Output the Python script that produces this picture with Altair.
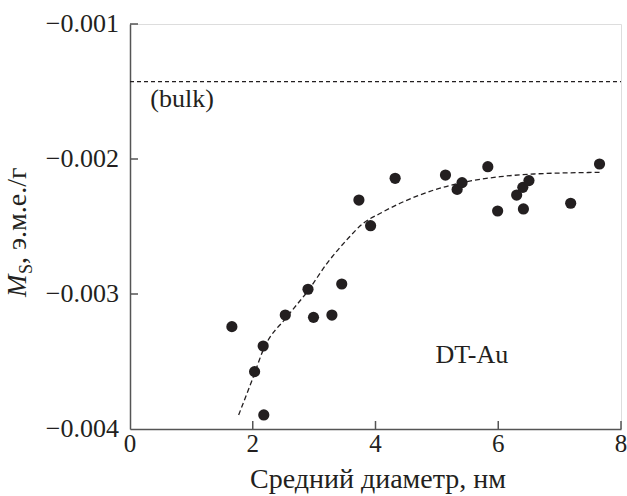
import altair as alt
import pandas as pd

# measured points: mean diameter (nm) and Ms (emu/g)
diam = [1.66, 2.03, 2.17, 2.18, 2.53, 2.90, 2.99, 3.29, 3.45, 3.73, 3.92, 4.32,
        5.14, 5.33, 5.41, 5.83, 5.99, 6.30, 6.40, 6.41, 6.50, 7.18, 7.65]
ms = [-0.003242, -0.003575, -0.003385, -0.003896, -0.003156, -0.002965, -0.003173,
      -0.003156, -0.002926, -0.002304, -0.002494, -0.002143, -0.002119, -0.002225,
      -0.002175, -0.002057, -0.002385, -0.002267, -0.002210, -0.002370, -0.002160,
      -0.002328, -0.002037]

# dashed fit curve
fit_x = [1.77, 2.01, 2.17, 2.56, 2.91, 3.21, 3.53, 3.80, 4.08, 4.40, 4.95, 5.49, 6.03, 6.58, 7.65]
fit_y = [-0.003896, -0.003613, -0.003415, -0.003168, -0.002970, -0.002773, -0.002600,
         -0.002476, -0.002402, -0.002328, -0.002230, -0.002168, -0.002131, -0.002111, -0.002099]

# bulk level
bulk_x = [0, 8]
bulk_y = [-0.001427, -0.001427]

x_ticks = [0, 2, 4, 6, 8]
y_ticks = [-0.004, -0.003, -0.002, -0.001]

labels_text = ["(bulk)", "DT-Au"]
labels_x = [0.33, 5.57]
labels_y = [-0.001615, -0.003511]

x_title = "Средний диаметр, нм"

FONT = "Liberation Serif"
INK = "#231f20"
AX = "#555555"

xscale = alt.Scale(domain=[0, 8], nice=False, zero=False)
yscale = alt.Scale(domain=[-0.004, -0.001], nice=False, zero=False)
xaxis = alt.Axis(values=x_ticks, title=None, ticks=False, labels=False,
                 domainColor=AX, domainWidth=1.5, grid=False)
yaxis = alt.Axis(values=y_ticks, title=None, ticks=False, labels=False,
                 domainColor=AX, domainWidth=1.5, grid=False)


def X(field):
    return alt.X(field, type="quantitative", scale=xscale, axis=xaxis)


def Y(field):
    return alt.Y(field, type="quantitative", scale=yscale, axis=yaxis)


pts = pd.DataFrame({"x": diam, "y": ms})
fit = pd.DataFrame({"x": fit_x, "y": fit_y})
bulk = pd.DataFrame({"x": bulk_x, "y": bulk_y})
xt_all = pd.DataFrame({"x": x_ticks})
yt_all = pd.DataFrame({"y": y_ticks})
xt = pd.DataFrame({"x": x_ticks[1:]})
yt = pd.DataFrame({"y": y_ticks[1:]})
lab = pd.DataFrame({"x": labels_x, "y": labels_y, "t": labels_text})
one = pd.DataFrame({"k": [0]})

bulk_layer = alt.Chart(bulk).mark_line(strokeDash=[4, 3], strokeWidth=1.1, color=INK).encode(
    x=X("x"), y=Y("y"))
fit_layer = alt.Chart(fit).mark_line(strokeDash=[5, 3], strokeWidth=1.3, color=INK,
                                     interpolate="monotone").encode(x=X("x"), y=Y("y"))
pt_layer = alt.Chart(pts).mark_circle(size=125, color=INK, opacity=1).encode(x=X("x"), y=Y("y"))
xtick_layer = alt.Chart(xt).mark_rule(color=AX, strokeWidth=1.5).encode(
    x=X("x"), y=alt.value(405), y2=alt.value(397))
ytick_layer = alt.Chart(yt).mark_rule(color=AX, strokeWidth=1.5).encode(
    y=Y("y"), x=alt.value(0), x2=alt.value(8))

# tick labels as text marks (serif)
xlab_layer = alt.Chart(xt_all).mark_text(font=FONT, fontSize=25, color=INK, align="center",
                                         baseline="top").encode(
    x=X("x"), y=alt.value(408), text=alt.Text("x:Q", format="d"))
ylab_layer = alt.Chart(yt_all).transform_calculate(
    lab="'\u2212' + format(abs(datum.y), '.3f')"
).mark_text(font=FONT, fontSize=26, color=INK, align="right", baseline="middle").encode(
    y=Y("y"), x=alt.value(-11), text="lab:N")

bulk_lab = alt.Chart(lab).transform_filter(alt.datum.t == "(bulk)").mark_text(
    font=FONT, fontSize=26, color=INK, align="left", baseline="alphabetic").encode(
    x=X("x"), y=Y("y"), text="t")
dt_lab = alt.Chart(lab).transform_filter(alt.datum.t == "DT-Au").mark_text(
    font=FONT, fontSize=26, color=INK, align="center", baseline="alphabetic").encode(
    x=X("x"), y=Y("y"), text="t")

xtitle_layer = alt.Chart(one).mark_text(text=x_title, font=FONT, fontSize=28, color=INK,
                                        align="center", baseline="alphabetic").encode(
    x=alt.value(248), y=alt.value(464))
title_m = alt.Chart(one).mark_text(text="M", font=FONT, fontStyle="italic", fontSize=27,
                                   angle=270, align="left", baseline="alphabetic",
                                   color=INK).encode(x=alt.value(-104), y=alt.value(273))
title_s = alt.Chart(one).mark_text(text="S", font=FONT, fontSize=18,
                                   angle=270, align="left", baseline="alphabetic",
                                   color=INK).encode(x=alt.value(-98), y=alt.value(250))
title_rest = alt.Chart(one).mark_text(text=", э.м.е./г", font=FONT, fontSize=28,
                                      angle=270, align="left", baseline="alphabetic",
                                      color=INK).encode(x=alt.value(-104), y=alt.value(240))

chart = alt.layer(bulk_layer, fit_layer, pt_layer, xtick_layer, ytick_layer,
                  xlab_layer, ylab_layer, bulk_lab, dt_lab, xtitle_layer,
                  title_m, title_s, title_rest).properties(
    width=491, height=405,
    autosize=alt.AutoSizeParams(type="none"),
    padding={"left": 130, "top": 24, "right": 6, "bottom": 67},
).configure_view(stroke=None).configure(background="white")

chart.save("out.html", embed_options={"renderer": "svg", "actions": False})
